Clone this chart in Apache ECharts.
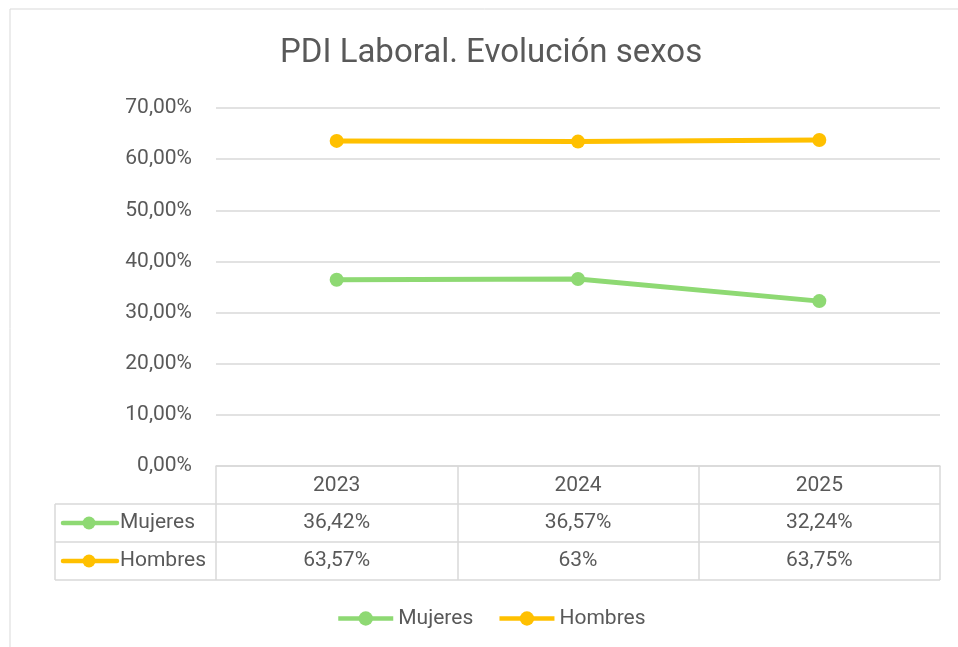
<!DOCTYPE html>
<html>
<head>
<meta charset="utf-8">
<script src="https://cdn.jsdelivr.net/npm/echarts@6/dist/echarts.min.js"></script>
<style>
  html, body { margin: 0; padding: 0; background: #fff; }
  #chart { width: 958px; height: 647px; }
</style>
</head>
<body>
<div id="chart"></div>
<script>
var years = ['2023', '2024', '2025'];
var mujeres = [36.42, 36.57, 32.24];
var hombres = [63.57, 63.43, 63.75];
// texts as shown in the data table
var mujeresLabels = ['36,42%', '36,57%', '32,24%'];
var hombresLabels = ['63,57%', '63%', '63,75%'];
var yTicks = [0, 10, 20, 30, 40, 50, 60, 70];

var green = '#8ED973';
var yellow = '#FFC000';
var textColor = '#595959';
var lineColor = '#d9d9d9';
var font = 'Roboto';
var fs = 21;

// layout
var gLeft = 216, gRight = 940, gTop = 108, gBottom = 466;
var rowH = 38;
var tableLeft = 55;

function pct(v) {
    return v.toFixed(2).replace('.', ',') + '%';
}

function tableAxis(labels, offset) {
    return {
        type: 'category',
        data: years,
        position: 'bottom',
        offset: offset,
        axisLine: { show: false },
        axisTick: { show: false },
        axisLabel: {
            color: textColor, fontFamily: font, fontSize: fs, margin: 8,
            formatter: function (v, i) { return labels[i]; }
        }
    };
}

function legendKey(y, color, name) {
    return [
        { type: 'line', shape: { x1: 63, y1: y, x2: 117, y2: y },
          style: { stroke: color, lineWidth: 4.5, lineCap: 'round' } },
        { type: 'circle', shape: { cx: 89, cy: y, r: 6.5 }, style: { fill: color } },
        { type: 'text', x: 120, y: y,
          style: { text: name, fill: textColor, font: fs + 'px ' + font, textVerticalAlign: 'middle' } }
    ];
}

var graphics = [
    { type: 'rect', shape: { x: 10, y: 9, width: 960, height: 660 },
      style: { fill: 'none', stroke: lineColor, lineWidth: 1 } },
    { type: 'line', shape: { x1: tableLeft, y1: gBottom + rowH, x2: gRight, y2: gBottom + rowH },
      style: { stroke: lineColor, lineWidth: 1.5 } },
    { type: 'line', shape: { x1: tableLeft, y1: gBottom + 2 * rowH, x2: gRight, y2: gBottom + 2 * rowH },
      style: { stroke: lineColor, lineWidth: 1.5 } },
    { type: 'line', shape: { x1: tableLeft, y1: gBottom + 3 * rowH, x2: gRight, y2: gBottom + 3 * rowH },
      style: { stroke: lineColor, lineWidth: 1.5 } },
    { type: 'line', shape: { x1: tableLeft, y1: gBottom + rowH, x2: tableLeft, y2: gBottom + 3 * rowH },
      style: { stroke: lineColor, lineWidth: 1.5 } }
].concat(legendKey(gBottom + rowH * 1.5, green, 'Mujeres'))
 .concat(legendKey(gBottom + rowH * 2.5, yellow, 'Hombres'));

var chart = echarts.init(document.getElementById('chart'), null, { renderer: 'canvas' });
chart.setOption({
    backgroundColor: '#fff',
    animation: false,
    title: {
        text: 'PDI Laboral. Evolución sexos',
        left: 275,
        top: 32,
        textStyle: { color: textColor, fontFamily: font, fontSize: 33, fontWeight: 'normal' }
    },
    grid: { left: gLeft, right: 958 - gRight, top: gTop, bottom: 647 - gBottom, containLabel: false },
    legend: {
        top: 603,
        left: 331,
        itemWidth: 55,
        itemHeight: 18,
        itemGap: 24,
        lineStyle: { width: 4.5 },
        textStyle: { color: textColor, fontFamily: font, fontSize: fs },
        data: ['Mujeres', 'Hombres']
    },
    xAxis: [
        {
            type: 'category',
            data: years,
            boundaryGap: true,
            axisLine: { show: true, lineStyle: { color: lineColor, width: 1.5 } },
            axisTick: { show: true, length: rowH * 3, lineStyle: { color: lineColor, width: 1.5 } },
            axisLabel: { color: textColor, fontFamily: font, fontSize: fs, margin: 9 }
        },
        tableAxis(mujeresLabels, rowH),
        tableAxis(hombresLabels, rowH * 2)
    ],
    yAxis: {
        type: 'value',
        min: 0,
        max: 70,
        interval: 10,
        axisLine: { show: false },
        axisTick: { show: false },
        splitLine: { lineStyle: { color: lineColor, width: 1.5 } },
        axisLabel: {
            color: textColor, fontFamily: font, fontSize: fs, margin: 24,
            formatter: function (v) { return yTicks.indexOf(v) >= 0 ? pct(v) : ''; }
        }
    },
    series: [
        {
            name: 'Mujeres', type: 'line', data: mujeres,
            symbol: 'circle', symbolSize: 14,
            lineStyle: { color: green, width: 5 },
            itemStyle: { color: green }
        },
        {
            name: 'Hombres', type: 'line', data: hombres,
            symbol: 'circle', symbolSize: 14,
            lineStyle: { color: yellow, width: 5 },
            itemStyle: { color: yellow }
        }
    ],
    graphic: graphics
});
</script>
</body>
</html>
